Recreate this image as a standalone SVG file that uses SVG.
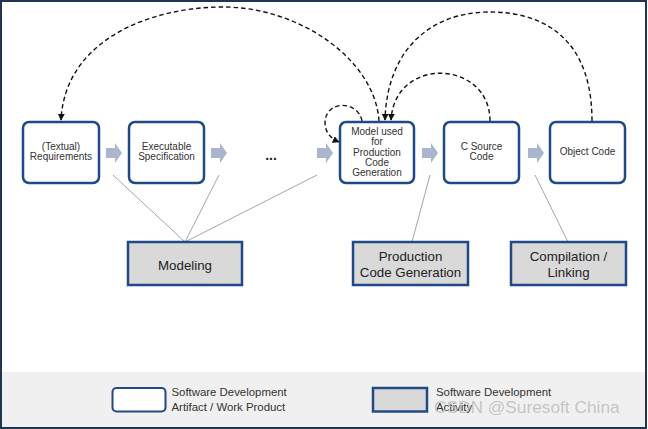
<svg xmlns="http://www.w3.org/2000/svg" width="648" height="429" viewBox="0 0 648 429">
<defs>
<style>
.art{fill:#fff;stroke:#1F4A86;stroke-width:2.5}
.act{fill:#D9D9D9;stroke:#1F4A86;stroke-width:2.5}
.t{font-family:"Liberation Sans",Arial,sans-serif;font-size:10px;fill:#333;text-anchor:middle}
.ta{font-family:"Liberation Sans",Arial,sans-serif;font-size:13.3px;fill:#222;text-anchor:middle}
.tl{font-family:"Liberation Sans",Arial,sans-serif;font-size:11.4px;fill:#333}
.flow{fill:#A9B6CE}
.dash{fill:none;stroke:#111;stroke-width:1.4;stroke-dasharray:4.5,3}
.link{fill:none;stroke:#A6A6A6;stroke-width:1}
</style>
<marker id="ah" viewBox="0 0 10 10" refX="9" refY="5" markerWidth="7" markerHeight="7" markerUnits="userSpaceOnUse" orient="auto">
<path d="M0,0 L10,5 L0,10 Z" fill="#111"/>
</marker>
<path id="fa" d="M0,5 H9 V0 L16,10 L9,20 V15 H0 Z"/>
</defs>
<rect x="0" y="0" width="648" height="429" fill="#fff"/>
<rect x="1" y="372" width="645" height="56" fill="#F0F0F0"/>
<rect x="1" y="1" width="645" height="427" fill="none" stroke="#1F3550" stroke-width="2"/>

<g id="connectors">
<use href="#fa" class="flow" x="106" y="143"/>
<use href="#fa" class="flow" x="211" y="143"/>
<use href="#fa" class="flow" x="317" y="143"/>
<use href="#fa" class="flow" x="422" y="143"/>
<use href="#fa" class="flow" x="528" y="143"/>
<path class="link" d="M113,175 L185,242 M219,175 L185,242 M317,175 L185,242"/>
<path class="link" d="M430,175 L412,242"/>
<path class="link" d="M535,175 L568,242"/>
<path class="dash" marker-end="url(#ah)" d="M379,121 C375,60 300,7 223,7 C150,7 65,40 61,120"/>
<path class="dash" marker-end="url(#ah)" d="M592,121 C592,20 520,12 490,12 C430,12 387,50 385,120"/>
<path class="dash" marker-end="url(#ah)" d="M490,121 C490,60 395,55 391,120"/>
<path class="dash" marker-end="url(#ah)" d="M362,121 C358,100 326,100 325,122 C325,132 330,138 339,142"/>
</g>

<g id="n1">
<rect class="art" x="23" y="122" width="76" height="61" rx="6"/>
<text class="t" x="61" y="150">(Textual)</text>
<text class="t" x="61" y="160">Requirements</text>
</g>
<g id="n2">
<rect class="art" x="129" y="122" width="75" height="61" rx="6"/>
<text class="t" x="166.5" y="150">Executable</text>
<text class="t" x="166.5" y="160">Specification</text>
</g>
<g id="dots">
<text x="271" y="160" style="font-family:'Liberation Sans',Arial,sans-serif;font-size:14px;font-weight:bold;fill:#222;text-anchor:middle">...</text>
</g>
<g id="n3">
<rect class="art" x="340" y="122" width="74" height="61" rx="6"/>
<text class="t" x="377" y="135">Model used</text>
<text class="t" x="377" y="145.2">for</text>
<text class="t" x="377" y="155.5">Production</text>
<text class="t" x="377" y="165.7">Code</text>
<text class="t" x="377" y="176">Generation</text>
</g>
<g id="n4">
<rect class="art" x="444" y="122" width="75" height="61" rx="6"/>
<text class="t" x="481.5" y="150">C Source</text>
<text class="t" x="481.5" y="160">Code</text>
</g>
<g id="n5">
<rect class="art" x="550" y="122" width="75" height="61" rx="6"/>
<text class="t" x="587.5" y="155">Object Code</text>
</g>

<g id="a1">
<rect class="act" x="128" y="242" width="114" height="43"/>
<text class="ta" x="185" y="270">Modeling</text>
</g>
<g id="a2">
<rect class="act" x="353" y="242" width="115" height="43"/>
<text class="ta" x="410.5" y="260.7">Production</text>
<text class="ta" x="410.5" y="277.4">Code Generation</text>
</g>
<g id="a3">
<rect class="act" x="511" y="242" width="115" height="43"/>
<text class="ta" x="568.5" y="260.7">Compilation /</text>
<text class="ta" x="568.5" y="277.4">Linking</text>
</g>

<g id="legend">
<rect x="112.5" y="388" width="53" height="23.5" rx="4" fill="#fff" stroke="#1F4A86" stroke-width="2"/>
<text class="tl" x="171.5" y="396">Software Development</text>
<text class="tl" x="171.5" y="410.5">Artifact / Work Product</text>
<rect x="373" y="388" width="54" height="23.5" fill="#D9D9D9" stroke="#1F4A86" stroke-width="2.5"/>
<text class="tl" x="436" y="396">Software Development</text>
<text class="tl" x="436" y="410.5">Activity</text>
</g>
<text x="434" y="413" style="font-family:'Liberation Sans',Arial,sans-serif;font-size:17.3px;fill:#BDBDBD;fill-opacity:0.85">CSDN @Suresoft China</text>
</svg>
